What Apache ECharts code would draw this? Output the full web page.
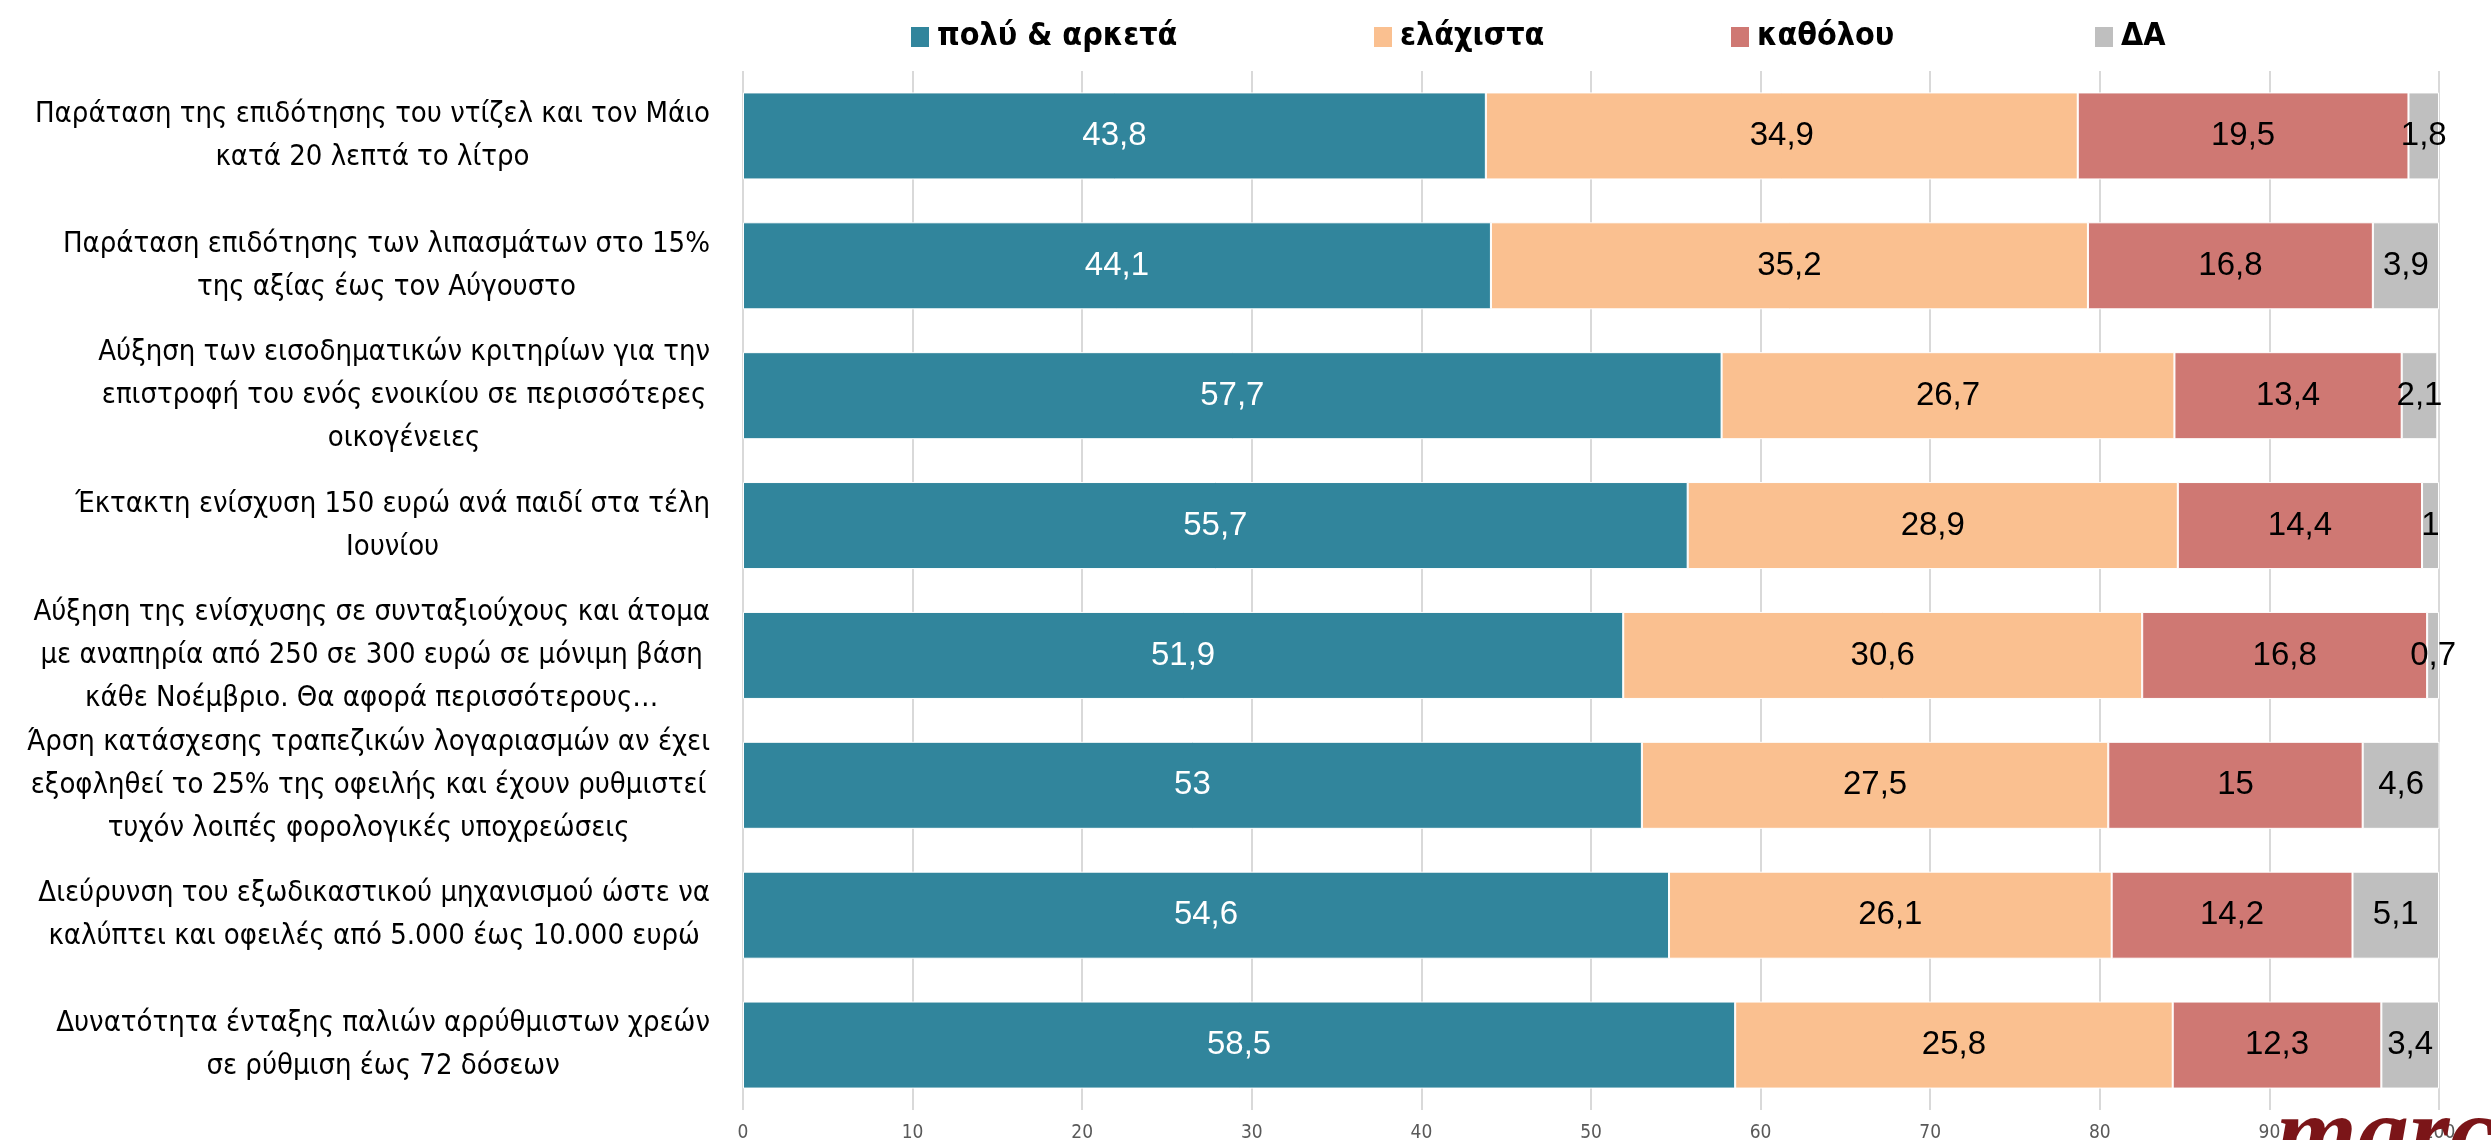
<!DOCTYPE html>
<html>
<head>
<meta charset="utf-8">
<script src="https://cdn.jsdelivr.net/npm/echarts@6/dist/echarts.min.js"></script>
<style>
html,body{margin:0;padding:0;background:#fff;}
#chart{width:2491px;height:1140px;}
</style>
</head>
<body>
<div id="chart"></div>
<script>
const categories = [
  "Παράταση της επιδότησης του ντίζελ και τον Μάιο\nκατά 20 λεπτά το λίτρο",
  "Παράταση επιδότησης των λιπασμάτων στο 15%\nτης αξίας έως τον Αύγουστο",
  "Αύξηση των εισοδηματικών κριτηρίων για την\nεπιστροφή του ενός ενοικίου σε περισσότερες\nοικογένειες",
  "Έκτακτη ενίσχυση 150 ευρώ ανά παιδί στα τέλη\nΙουνίου",
  "Αύξηση της ενίσχυσης σε συνταξιούχους και άτομα\nμε αναπηρία από 250 σε 300 ευρώ σε μόνιμη βάση\nκάθε Νοέμβριο. Θα αφορά περισσότερους…",
  "Άρση κατάσχεσης τραπεζικών λογαριασμών αν έχει\nεξοφληθεί το 25% της οφειλής και έχουν ρυθμιστεί\nτυχόν λοιπές φορολογικές υποχρεώσεις",
  "Διεύρυνση του εξωδικαστικού μηχανισμού ώστε να\nκαλύπτει και οφειλές από 5.000 έως 10.000 ευρώ",
  "Δυνατότητα ένταξης παλιών αρρύθμιστων χρεών\nσε ρύθμιση έως 72 δόσεων"
];
const seriesNames = ["πολύ & αρκετά", "ελάχιστα", "καθόλου", "ΔΑ"];
const muchValues  = [43.8, 44.1, 57.7, 55.7, 51.9, 53, 54.6, 58.5];
const littleValues = [34.9, 35.2, 26.7, 28.9, 30.6, 27.5, 26.1, 25.8];
const noneValues  = [19.5, 16.8, 13.4, 14.4, 16.8, 15, 14.2, 12.3];
const naValues    = [1.8, 3.9, 2.1, 1, 0.7, 4.6, 5.1, 3.4];
const xTicks = [0, 10, 20, 30, 40, 50, 60, 70, 80, 90, 100];

const colors = ["#31859C", "#FAC090", "#CF7873", "#BFBFBF"];
const labelColors = ["#ffffff", "#000000", "#000000", "#000000"];
const allValues = [muchValues, littleValues, noneValues, naValues];
const narrow = "'Liberation Sans Narrow','DejaVu Sans Condensed','Roboto Condensed',sans-serif";

const chart = echarts.init(document.getElementById('chart'), null, {renderer: 'canvas'});

const legendLefts = [904, 1367, 1724, 2088];
const legends = seriesNames.map((n, i) => ({
  data: [n],
  left: legendLefts[i],
  top: 16,
  itemWidth: 20,
  itemHeight: 22,
  itemGap: 0,
  icon: 'rect',
  textStyle: {fontFamily: narrow, fontWeight: 'bold', fontSize: 32, color: '#000', padding: [0,0,0,2]}
}));

chart.setOption({
  animation: false,
  color: colors,
  legend: legends,
  grid: {left: 743, right: 52, top: 71, bottom: 30, containLabel: false, outerBoundsMode: 'none'},
  xAxis: {
    type: 'value',
    min: 0, max: 100, interval: 10,
    axisLine: {show: false},
    axisTick: {show: false},
    splitLine: {show: true, lineStyle: {color: '#D9D9D9', width: 2}},
    axisLabel: {
      color: '#595959', fontSize: 19, fontFamily: narrow, margin: 14,
      formatter: v => xTicks.includes(v) ? String(v) : ''
    }
  },
  yAxis: {
    type: 'category',
    inverse: true,
    data: categories,
    axisLine: {show: false},
    axisTick: {show: false},
    axisLabel: {
      margin: 33,
      formatter: v => v.split('\n').map(l => '{c|' + l + '}').join('\n'),
      rich: {
        c: {align: 'center', fontFamily: narrow, fontSize: 29, lineHeight: 43, color: '#000'}
      }
    }
  },
  series: seriesNames.map((n, i) => ({
    name: n,
    type: 'bar',
    stack: 'total',
    barCategoryGap: '33%',
    data: allValues[i],
    itemStyle: {color: colors[i], borderColor: '#ffffff', borderWidth: 1},
    label: {
      show: true,
      position: 'inside',
      color: labelColors[i],
      fontSize: 33,
      fontFamily: "'Liberation Sans',Arial,sans-serif",
      formatter: p => String(p.value).replace('.', ',')
    }
  })),
  graphic: [{
    type: 'text',
    left: 2276,
    top: 1088,
    z: 100,
    style: {
      text: 'marc',
      font: 'italic bold 104px "Liberation Serif", "DejaVu Serif", serif',
      fill: '#7B1518'
    }
  }]
});
</script>
</body>
</html>
